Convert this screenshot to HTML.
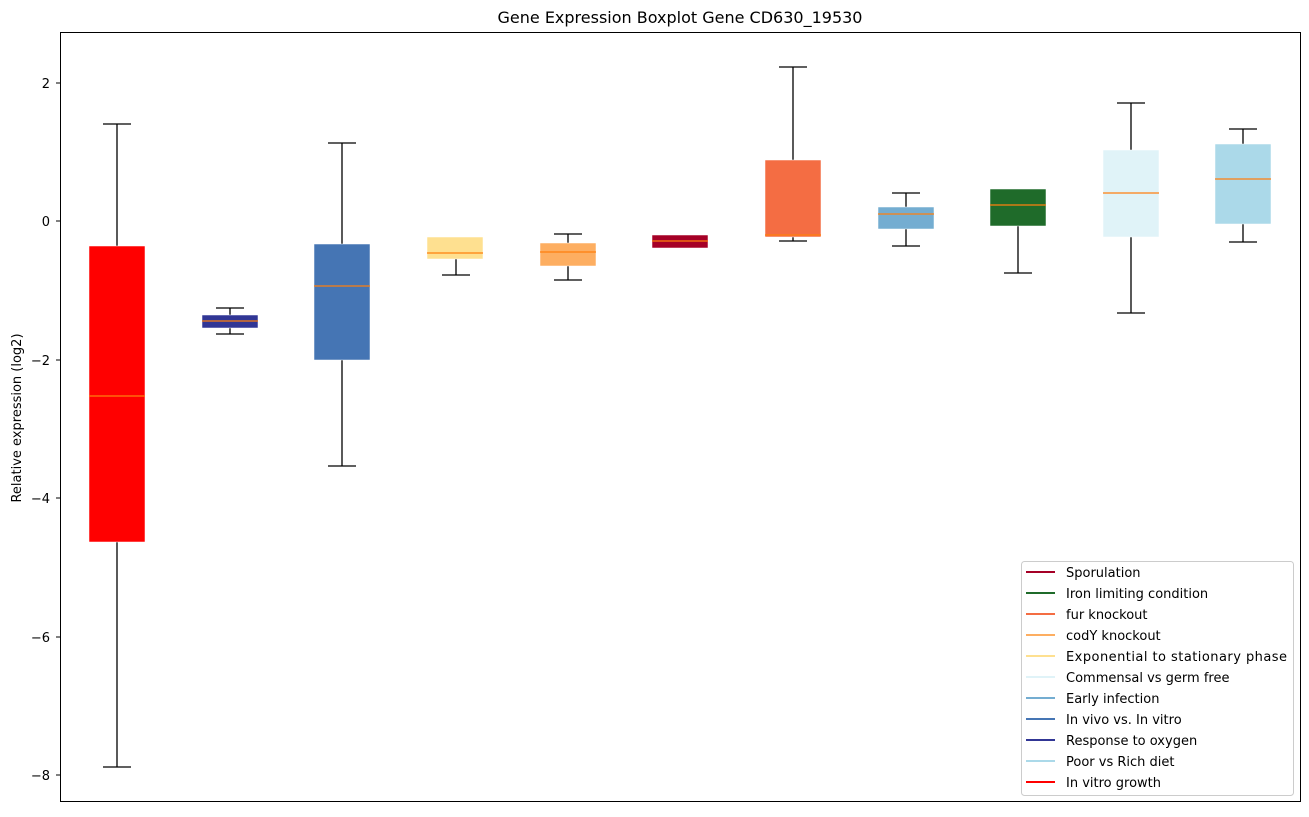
<!DOCTYPE html><html><head><style>body{margin:0;background:#fff}svg{font-family:"DejaVu Sans","Liberation Sans",sans-serif}</style></head><body>
<svg width="1309" height="812" viewBox="0 0 1309 812">
<rect width="1309" height="812" fill="#fff"/>
<text x="680" y="23" font-size="16" text-anchor="middle">Gene Expression Boxplot Gene CD630_19530</text>
<g stroke="#000" stroke-width="1.3" fill="none">
<path d="M117 124V246M117 542V767M103 124H131M103 767H131"/>
<path d="M230 308V316M230 328V334M216 308H244M216 334H244"/>
<path d="M342 143V244M342 360V466M328 143H356M328 466H356"/>
<path d="M456 259V275M442 275H470"/>
<path d="M568 234V243M568 266V280M554 234H582M554 280H582"/>
<path d="M793 67V160M793 237V241M779 67H807M779 241H807"/>
<path d="M906 193V207M906 229V246M892 193H920M892 246H920"/>
<path d="M1018 226V273M1004 273H1032"/>
<path d="M1131 103V150M1131 237V313M1117 103H1145M1117 313H1145"/>
<path d="M1243 129V144M1243 224V242M1229 129H1257M1229 242H1257"/>
</g>
<g stroke="#fff" stroke-width="0.5">
<rect x="89" y="246" width="56" height="296" fill="#ff0000"/>
<rect x="202" y="315" width="56" height="13" fill="#313695"/>
<rect x="314" y="244" width="56" height="116" fill="#4575b4"/>
<rect x="427" y="237" width="56" height="22" fill="#fee090"/>
<rect x="540" y="243" width="56" height="23" fill="#fdae61"/>
<rect x="652" y="235" width="56" height="13" fill="#a50026"/>
<rect x="765" y="160" width="56" height="77" fill="#f46d43"/>
<rect x="878" y="207" width="56" height="22" fill="#74add1"/>
<rect x="990" y="189" width="56" height="37" fill="#1f6b2a"/>
<rect x="1103" y="150" width="56" height="87" fill="#e0f3f8"/>
<rect x="1215" y="144" width="56" height="80" fill="#abd9e9"/>
</g>
<g stroke="#ff7f0e" stroke-width="1.2">
<path d="M89 396H145M202 321H258M314 286H370M427 253H483M540 252H596M652 241H708M765 235H821M878 214H934M990 205H1046M1103 193H1159M1215 179H1271"/>
</g>
<rect x="60.5" y="32.5" width="1240" height="769" fill="none" stroke="#000" stroke-width="1"/>
<g stroke="#000" stroke-width="1"><path d="M56 83H60M56 221H60M56 360H60M56 498H60M56 637H60M56 775H60"/></g>
<g font-size="13" text-anchor="end">
<text x="50" y="88">2</text><text x="50" y="226">0</text><text x="50" y="365">−2</text><text x="50" y="503">−4</text><text x="50" y="642">−6</text><text x="50" y="780">−8</text>
</g>
<text transform="translate(21,418) rotate(-90)" font-size="13" text-anchor="middle">Relative expression (log2)</text>
<rect x="1021.5" y="561.5" width="272" height="234" rx="3" fill="#fff" stroke="#ccc"/>
<g stroke-width="2">
<path d="M1026 572H1055" stroke="#a50026"/><path d="M1026 593H1055" stroke="#1f6b2a"/><path d="M1026 614H1055" stroke="#f46d43"/><path d="M1026 635H1055" stroke="#fdae61"/><path d="M1026 656H1055" stroke="#fee090"/><path d="M1026 677H1055" stroke="#e0f3f8"/><path d="M1026 698H1055" stroke="#74add1"/><path d="M1026 719H1055" stroke="#4575b4"/><path d="M1026 740H1055" stroke="#313695"/><path d="M1026 761H1055" stroke="#abd9e9"/><path d="M1026 782H1055" stroke="#ff0000"/>
</g>
<g font-size="13">
<text x="1066" y="577">Sporulation</text><text x="1066" y="598">Iron limiting condition</text><text x="1066" y="619">fur knockout</text><text x="1066" y="640">codY knockout</text><text x="1066" y="661" textLength="221">Exponential to stationary phase</text><text x="1066" y="682">Commensal vs germ free</text><text x="1066" y="703">Early infection</text><text x="1066" y="724">In vivo vs. In vitro</text><text x="1066" y="745">Response to oxygen</text><text x="1066" y="766">Poor vs Rich diet</text><text x="1066" y="787">In vitro growth</text>
</g>
</svg></body></html>
